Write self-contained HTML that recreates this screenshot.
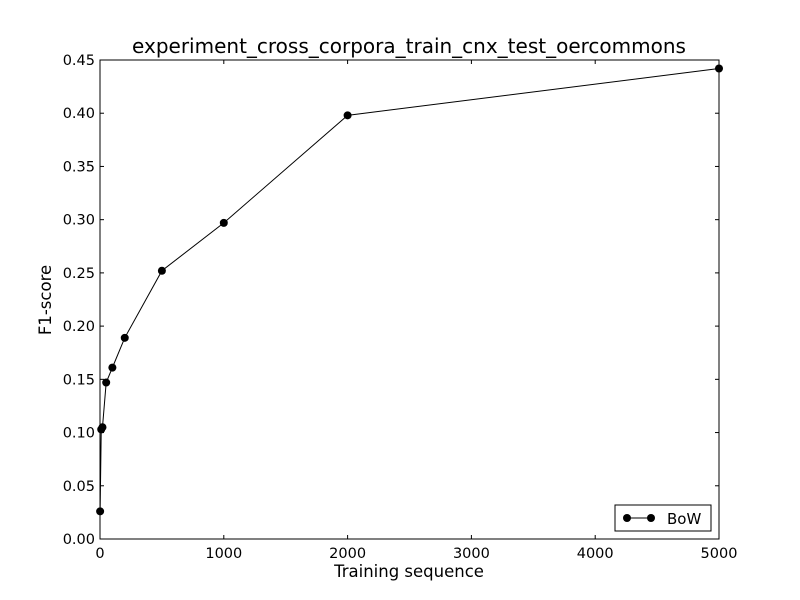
<!DOCTYPE html>
<html><head><meta charset="utf-8"><style>
body{margin:0;background:#fff}
svg{display:block;font-family:"DejaVu Sans","Liberation Sans",sans-serif}
</style></head><body>
<svg id="chart" width="800" height="600"></svg>
<script>
const xValues=[1,10,20,50,100,200,500,1000,2000,5000];
const f1Values=[0.026,0.103,0.105,0.147,0.161,0.189,0.252,0.297,0.398,0.442];
const xTicks=[0,1000,2000,3000,4000,5000];
const yTicks=[0,0.05,0.10,0.15,0.20,0.25,0.30,0.35,0.40,0.45];
const L=100,R=719,T=60,B=539;
const sx=v=>L+(v-0)/5000*(R-L);
const sy=v=>B-(v-0)/0.45*(B-T);
const svg=document.getElementById('chart');
const NS='http://www.w3.org/2000/svg';
function mk(tag,attrs,parent){const e=document.createElementNS(NS,tag);for(const k in attrs)e.setAttribute(k,attrs[k]);(parent||svg).appendChild(e);return e;}
let t;
t=mk('text',{x:409,y:53,'text-anchor':'middle','font-size':'20'});t.textContent='experiment_cross_corpora_train_cnx_test_oercommons';


xTicks.forEach(v=>{const x=sx(v);
 const g=mk('g',{});
 
 
 mk('line',{x1:x,x2:x,y1:B,y2:B-4,stroke:'#000'},g);
 mk('line',{x1:x,x2:x,y1:T,y2:T+4,stroke:'#000'},g);
 const tx=mk('text',{x:x,y:B+19,'text-anchor':'middle','font-size':'14.5'},g);tx.textContent=v;});
yTicks.forEach(v=>{const y=sy(v);
 const g=mk('g',{});
 
 
 mk('line',{x1:L,x2:L+4,y1:y,y2:y,stroke:'#000'},g);
 mk('line',{x1:R,x2:R-4,y1:y,y2:y,stroke:'#000'},g);
 const tx=mk('text',{x:L-5,y:y+5,'text-anchor':'end','font-size':'14.5'},g);tx.textContent=v.toFixed(2);});
const frame=mk('rect',{x:L,y:T,width:R-L,height:B-T,fill:'none',stroke:'#000'});


t=mk('text',{x:409,y:577,'text-anchor':'middle','font-size':'16.5'});t.textContent='Training sequence';


t=mk('text',{x:51,y:300,'text-anchor':'middle','font-size':'16.5',transform:'rotate(-90 51 300)'});t.textContent='F1-score';


const line=mk('polyline',{points:xValues.map((x,i)=>sx(x)+','+sy(f1Values[i])).join(' '),fill:'none',stroke:'#000','stroke-width':1});


xValues.forEach((x,i)=>{const c=mk('circle',{cx:sx(x),cy:sy(f1Values[i]),r:4,fill:'#000'});
 
 });
const lg=mk('g',{});


mk('rect',{x:615,y:505,width:96,height:26,fill:'#fff',stroke:'#000'},lg);
mk('line',{x1:627,x2:651,y1:518,y2:518,stroke:'#000'},lg);
mk('circle',{cx:627,cy:518,r:4,fill:'#000'},lg);
mk('circle',{cx:651,cy:518,r:4,fill:'#000'},lg);
t=mk('text',{x:667,y:524,'font-size':'15'},lg);t.textContent='BoW';
</script>
</body></html>
